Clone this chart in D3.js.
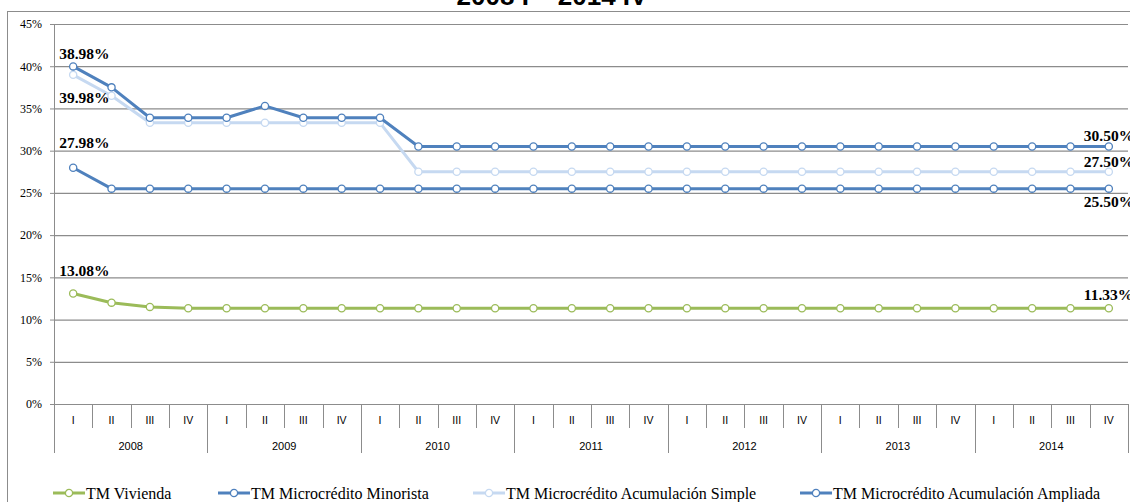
<!DOCTYPE html>
<html>
<head>
<meta charset="utf-8">
<script src="https://cdn.jsdelivr.net/npm/d3@7"></script>
<style>
  html, body { margin: 0; padding: 0; background: #fff; }
  svg { display: block; }
</style>
</head>
<body>
<svg id="chart" width="1130" height="502"></svg>
<script>
// Quarterly series, 2008 I – 2014 IV
const years = ["2008", "2009", "2010", "2011", "2012", "2013", "2014"];
const quarters = ["I", "II", "III", "IV"];
const yTicks = [0, 5, 10, 15, 20, 25, 30, 35, 40, 45];

const vivienda = [13.08, 12.0, 11.5, 11.33, 11.33, 11.33, 11.33, 11.33, 11.33, 11.33, 11.33, 11.33, 11.33, 11.33,
                  11.33, 11.33, 11.33, 11.33, 11.33, 11.33, 11.33, 11.33, 11.33, 11.33, 11.33, 11.33, 11.33, 11.33];
const minorista = [39.98, 37.5, 33.9, 33.9, 33.9, 35.3, 33.9, 33.9, 33.9, 30.5, 30.5, 30.5, 30.5, 30.5,
                   30.5, 30.5, 30.5, 30.5, 30.5, 30.5, 30.5, 30.5, 30.5, 30.5, 30.5, 30.5, 30.5, 30.5];
const acumSimple = [38.98, 36.5, 33.3, 33.3, 33.3, 33.3, 33.3, 33.3, 33.3, 27.5, 27.5, 27.5, 27.5, 27.5,
                    27.5, 27.5, 27.5, 27.5, 27.5, 27.5, 27.5, 27.5, 27.5, 27.5, 27.5, 27.5, 27.5, 27.5];
const acumAmpliada = [27.98, 25.5, 25.5, 25.5, 25.5, 25.5, 25.5, 25.5, 25.5, 25.5, 25.5, 25.5, 25.5, 25.5,
                      25.5, 25.5, 25.5, 25.5, 25.5, 25.5, 25.5, 25.5, 25.5, 25.5, 25.5, 25.5, 25.5, 25.5];

const seriesNames = ["TM Vivienda", "TM Microcrédito Minorista", "TM Microcrédito Acumulación Simple", "TM Microcrédito Acumulación Ampliada"];
const seriesColors = ["#9BBB59", "#4F81BD", "#C6D9F1", "#4F81BD"];
const seriesValues = [vivienda, minorista, acumSimple, acumAmpliada];

// Value labels: series index, point index, horizontal and vertical shift
const valueLabels = [
  { s: 1, i: 0, dx: -14, dy: 37 },
  { s: 2, i: 0, dx: -14, dy: -16 },
  { s: 3, i: 0, dx: -14, dy: -20 },
  { s: 0, i: 0, dx: -14, dy: -17.5 },
  { s: 1, i: 27, dx: -25, dy: -5.5 },
  { s: 2, i: 27, dx: -25, dy: -5 },
  { s: 3, i: 27, dx: -25, dy: 18.5 },
  { s: 0, i: 27, dx: -25, dy: -8 }
];

const periods = [];
years.forEach(y => quarters.forEach(q => periods.push(y + " " + q)));

const svg = d3.select("#chart");
const plot = { left: 54, right: 1128, top: 24, bottom: 404 };

const x = d3.scaleBand().domain(d3.range(periods.length)).range([plot.left, plot.right]);
const cx = i => x(i) + x.bandwidth() / 2;
const y = d3.scaleLinear().domain([0, 45]).range([plot.bottom, plot.top]);

// Outer frame
svg.append("rect")
  .attr("x", 7.5).attr("y", 11.5)
  .attr("width", 1140).attr("height", 500)
  .attr("fill", "none").attr("stroke", "#8c8c8c").attr("stroke-width", 1);

// Title (sits above the frame)
svg.append("text")
  .attr("x", 552).attr("y", 5)
  .attr("text-anchor", "middle")
  .attr("font-family", "Liberation Sans, Arial, sans-serif")
  .attr("font-weight", "bold")
  .attr("font-size", 26)
  .text("2008 I – 2014 IV");

// Horizontal gridlines
svg.append("g")
  .attr("transform", `translate(${plot.left},0)`)
  .call(d3.axisLeft(y).tickValues(yTicks).tickSize(-(plot.right - plot.left)).tickFormat(""))
  .call(g => g.select(".domain").remove())
  .call(g => g.selectAll("line").attr("stroke", "#8c8c8c").attr("stroke-width", 1.2));

// Y axis
svg.append("g")
  .attr("transform", `translate(${plot.left},0)`)
  .call(d3.axisLeft(y).tickValues(yTicks).tickSize(4).tickPadding(8).tickFormat(d => d + "%"))
  .call(g => g.select(".domain").attr("stroke", "#8c8c8c"))
  .call(g => g.selectAll("line").attr("stroke", "#8c8c8c"))
  .call(g => g.selectAll("text")
    .attr("font-family", "Liberation Serif, Times New Roman, serif")
    .attr("font-size", 12).attr("fill", "#000"));

// X axis: quarter and year dividers
const xAxis = svg.append("g");
xAxis.append("line")
  .attr("x1", plot.left).attr("x2", plot.right)
  .attr("y1", plot.bottom + 0.5).attr("y2", plot.bottom + 0.5)
  .attr("stroke", "#8c8c8c");

xAxis.selectAll(".qdiv")
  .data(d3.range(periods.length + 1))
  .join("line")
  .attr("class", "qdiv")
  .attr("x1", i => Math.round(i < periods.length ? x(i) : plot.right) + 0.5)
  .attr("x2", i => Math.round(i < periods.length ? x(i) : plot.right) + 0.5)
  .attr("y1", plot.bottom)
  .attr("y2", i => (i % 4 === 0) ? 453 : 428)
  .attr("stroke", "#8c8c8c");

xAxis.selectAll(".qlab")
  .data(periods)
  .join("text")
  .attr("class", "qlab")
  .attr("x", (d, i) => cx(i))
  .attr("y", 424)
  .attr("text-anchor", "middle")
  .attr("font-family", "Liberation Sans, Arial, sans-serif")
  .attr("font-size", 10.5)
  .text(d => d.split(" ")[1]);

xAxis.selectAll(".ylab")
  .data(years)
  .join("text")
  .attr("class", "ylab")
  .attr("x", (d, k) => (x(k * 4) + x(k * 4 + 3) + x.bandwidth()) / 2)
  .attr("y", 450)
  .attr("text-anchor", "middle")
  .attr("font-family", "Liberation Sans, Arial, sans-serif")
  .attr("font-size", 11)
  .text(d => d);

// Series lines and markers
const line = d3.line().x((d, i) => cx(i)).y(d => y(d));
const drawOrder = [0, 3, 2, 1];
drawOrder.forEach(s => {
  const g = svg.append("g");
  g.append("path")
    .datum(seriesValues[s])
    .attr("d", line)
    .attr("fill", "none")
    .attr("stroke", seriesColors[s])
    .attr("stroke-width", 3)
    .attr("stroke-linejoin", "round");
  g.selectAll("circle")
    .data(seriesValues[s])
    .join("circle")
    .attr("cx", (d, i) => cx(i))
    .attr("cy", d => y(d))
    .attr("r", 3.6)
    .attr("fill", "#fff")
    .attr("stroke", seriesColors[s])
    .attr("stroke-width", 1.3);
});

// Value labels
svg.append("g").selectAll("text")
  .data(valueLabels)
  .join("text")
  .attr("x", d => cx(d.i) + d.dx)
  .attr("y", d => y(seriesValues[d.s][d.i]) + d.dy)
  .attr("font-family", "Liberation Serif, Times New Roman, serif")
  .attr("font-weight", "bold")
  .attr("font-size", 15.5)
  .text(d => seriesValues[d.s][d.i].toFixed(2) + "%");

// Legend
const legendX = [53, 218, 473, 800];
const legend = svg.append("g");
seriesNames.forEach((name, s) => {
  const g = legend.append("g").attr("transform", `translate(${legendX[s]},493)`);
  g.append("line")
    .attr("x1", 0).attr("x2", 32).attr("y1", 0).attr("y2", 0)
    .attr("stroke", seriesColors[s]).attr("stroke-width", 3);
  g.append("circle")
    .attr("cx", 16).attr("cy", 0).attr("r", 3.6)
    .attr("fill", "#fff").attr("stroke", seriesColors[s]).attr("stroke-width", 1.3);
  g.append("text")
    .attr("x", 33).attr("y", 5.5)
    .attr("font-family", "Liberation Serif, Times New Roman, serif")
    .attr("font-size", 16)
    .text(name);
});
</script>
</body>
</html>
